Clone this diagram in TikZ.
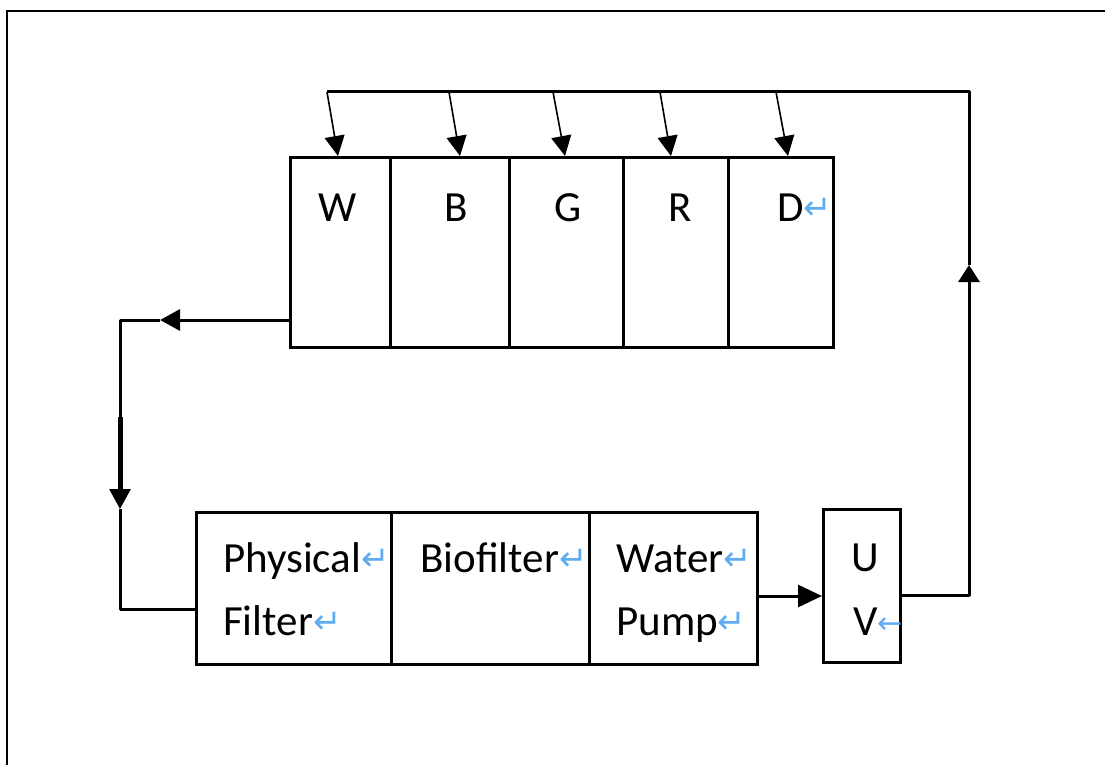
\documentclass[tikz,border=0pt]{standalone}
\usepackage{fontspec}
\setmainfont{Carlito}
\newfontfamily\symfont{DejaVu Sans}
\usetikzlibrary{arrows.meta}
\definecolor{pilcrow}{RGB}{95,172,240}
\newcommand{\pmark}{\raisebox{2pt}{\symfont\fontsize{34}{34}\selectfont\color{pilcrow}↵}}
\newcommand{\lmark}{\raisebox{2pt}{\symfont\fontsize{30}{30}\selectfont\color{pilcrow}←}}
\begin{document}
\begin{tikzpicture}[x=1pt,y=-1pt,
  cell/.style={draw=black,line width=3pt,inner sep=0pt,anchor=north west},
  lbl/.style={inner sep=0pt,font=\fontsize{43}{43}\selectfont},
  conn/.style={draw=black,line width=3pt,line join=round},
  feed/.style={draw=black,line width=1.6pt,-{Triangle[length=20pt,width=20pt]}},
  bigtip/.style={-{Triangle[length=20pt,width=21pt]}}]
\useasboundingbox (0,0) rectangle (1105,765);
% frame
\draw[line width=2pt] (7,765) -- (7,11) -- (1105,11);
% top cells
\node[cell,minimum width=100pt,minimum height=190pt] (w) at (289,156) {};
\node[cell,minimum width=119pt,minimum height=190pt] (b) at (389,156) {};
\node[cell,minimum width=114pt,minimum height=190pt] (g) at (508,156) {};
\node[cell,minimum width=105pt,minimum height=190pt] (r) at (622,156) {};
\node[cell,minimum width=105pt,minimum height=190pt] (d) at (727,156) {};
\node[lbl,anchor=base] (tw) at (338,221) {W};
\node[lbl,anchor=base] (tb) at (456,221) {B};
\node[lbl,anchor=base] (tg) at (568,221) {G};
\node[lbl,anchor=base] (tr) at (680,221) {R};
\node[lbl,anchor=base west] (td) at (777,221) {D\pmark};
% bottom cells
\node[cell,minimum width=195pt,minimum height=152pt] (pf) at (195,511) {};
\node[cell,minimum width=198pt,minimum height=152pt] (bio) at (390,511) {};
\node[cell,minimum width=168pt,minimum height=152pt] (pump) at (588,511) {};
\node[cell,minimum width=77pt,minimum height=153pt] (uv) at (822,508) {};
\node[lbl,anchor=base west] (tpf1) at (223,572) {Physical\pmark};
\node[lbl,anchor=base west] (tpf2) at (223,635) {Filter\pmark};
\node[lbl,anchor=base west] (tbio) at (420,572) {Biofilter\pmark};
\node[lbl,anchor=base west] (tpu1) at (616,572) {Water\pmark};
\node[lbl,anchor=base west] (tpu2) at (616,635) {Pump\pmark};
\node[lbl,anchor=base] (tu) at (865,571) {U};
\node[lbl,anchor=base west] (tv) at (853,635) {V\lmark};
% coordinates
\coordinate (wl) at (289,320);
\coordinate (a1) at (160,320);
\coordinate (c1) at (120,320);
\coordinate (a2) at (120,509);
\coordinate (c2) at (120,609);
\coordinate (pfl) at (195,609);
\coordinate (pe) at (756,596);
\coordinate (uvl) at (822,596);
\coordinate (uvr) at (899,595);
\coordinate (c3) at (969,595);
\coordinate (a3) at (969,265);
\coordinate (c4) at (969,92);
\coordinate (s1) at (327,92);
\coordinate (s2) at (449,92);
\coordinate (s3) at (553,92);
\coordinate (s4) at (660,92);
\coordinate (s5) at (776,92);
\coordinate (e1) at (338,156);
\coordinate (e2) at (460,156);
\coordinate (e3) at (565,156);
\coordinate (e4) at (671,156);
\coordinate (e5) at (788,156);
% loop connectors
\draw[conn,bigtip] (wl) -- (a1);
\draw[conn,bigtip] (a1) -- (c1) -- (a2);
\draw[line width=5pt] (120,417) -- (120,490);
\draw[conn] (a2) -- (c2) -- (pfl);
\draw[conn,-{Triangle[length=24pt,width=22pt]}] (pe) -- (uvl);
\draw[conn,-{Triangle[length=17pt,width=21pt]}] (uvr) -- (c3) -- (a3);
\draw[conn] (a3) -- (c4) -- (s1);
% feed arrows
\draw[feed] (s1) -- (e1);
\draw[feed] (s2) -- (e2);
\draw[feed] (s3) -- (e3);
\draw[feed] (s4) -- (e4);
\draw[feed] (s5) -- (e5);
\end{tikzpicture}
\end{document}
